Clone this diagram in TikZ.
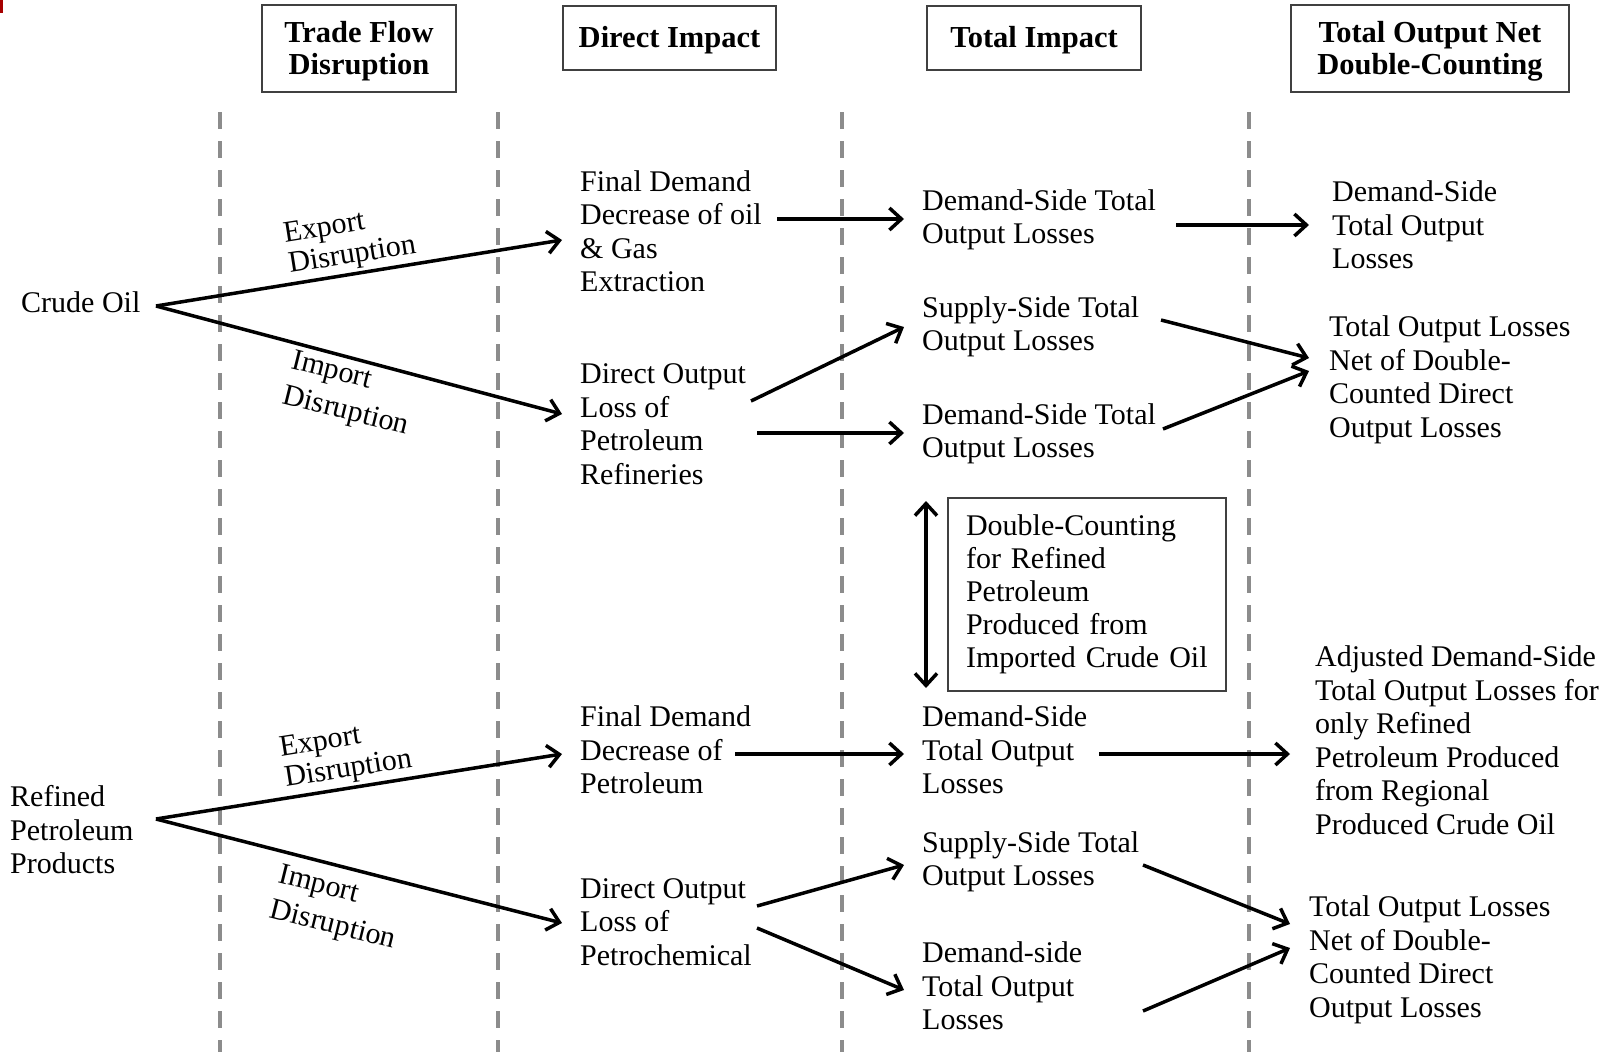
\documentclass[tikz,border=0pt]{standalone}
\usepackage{fontspec}
\setmainfont{Liberation Serif}
\usetikzlibrary{arrows.meta}
\begin{document}
\begin{tikzpicture}[x=1pt,y=-1pt,
  txt/.style={font=\fontsize{30}{33.5}\selectfont, align=left, anchor=west, inner sep=0pt},
  hdrbox/.style={draw=black!75, line width=1.8pt, inner sep=0pt},
  hdrtxt/.style={font=\fontsize{30.5}{32}\selectfont\bfseries, align=center, inner sep=0pt},
  lbl/.style={font=\fontsize{30}{31}\selectfont, align=left, inner sep=0pt},
  lbltwo/.style={font=\fontsize{30}{36}\selectfont, align=left, inner sep=0pt},
  arr/.style={line width=3.5pt, -{Straight Barb[length=12pt,width=22pt]}},
  dblarr/.style={line width=3.5pt, {Straight Barb[length=12pt,width=22pt]}-{Straight Barb[length=12pt,width=22pt]}},
  guide/.style={draw=black!45, line width=3.5pt, dash pattern=on 17pt off 12pt}
]
\useasboundingbox (0,0) rectangle (1614,1052);
\fill[red!65!black] (0,0) rectangle (3,13);

% guides
\foreach \gx in {220,498,842,1249} \draw[guide] (\gx,112) -- (\gx,1052);

% headers
\node[hdrbox, minimum width=194pt, minimum height=87pt] (h1) at (359,48.5) {};
\node[hdrbox, minimum width=213pt, minimum height=64pt] (h2) at (669.5,38) {};
\node[hdrbox, minimum width=214pt, minimum height=64pt] (h3) at (1034,38) {};
\node[hdrbox, minimum width=278pt, minimum height=87pt] (h4) at (1430,48.5) {};
\node[hdrtxt] (h1t) at ([yshift=-3pt]h1.center) {Trade Flow\\Disruption};
\node[hdrtxt] (h2t) at ([yshift=-2pt]h2.center) {Direct Impact};
\node[hdrtxt] (h3t) at ([yshift=-2pt]h3.center) {Total Impact};
\node[hdrtxt] (h4t) at ([yshift=-3pt]h4.center) {Total Output Net\\Double-Counting};

% left sources
\node[txt] (co) at (21,302) {Crude Oil};
\node[txt] (rpp) at (10,830) {Refined\\Petroleum\\Products};

% direct impact
\node[txt] (fd1) at (580,231) {Final Demand\\Decrease of oil\\\& Gas\\Extraction};
\node[txt] (do1) at (580,424) {Direct Output\\Loss of\\Petroleum\\Refineries};
\node[txt] (fd2) at (580,750) {Final Demand\\Decrease of\\Petroleum};
\node[txt] (do2) at (580,922) {Direct Output\\Loss of\\Petrochemical};

% total impact
\node[txt] (ti1) at (922,220) {Demand-Side Total\\Output Losses};
\node[txt] (ti2) at (922,327) {Supply-Side Total\\Output Losses};
\node[txt] (ti3) at (922,434) {Demand-Side Total\\Output Losses};
\node[txt] (ti4) at (922,750) {Demand-Side\\Total Output\\Losses};
\node[txt] (ti5) at (922,862) {Supply-Side Total\\Output Losses};
\node[txt] (ti6) at (922,986) {Demand-side\\Total Output\\Losses};

% net
\node[txt] (n1) at (1332,225) {Demand-Side\\Total Output\\Losses};
\node[txt] (n2) at (1329,380) {Total Output Losses\\Net of Double-\\Counted Direct\\Output Losses};
\node[txt] (n3) at (1315,740) {Adjusted Demand-Side\\Total Output Losses for\\only Refined\\Petroleum Produced\\from Regional\\Produced Crude Oil};
\node[txt] (n4) at (1309,960) {Total Output Losses\\Net of Double-\\Counted Direct\\Output Losses};

% double counting box
\node[draw=black!75, line width=1.5pt, font=\fontsize{30}{33}\selectfont, align=left,
      text width=242pt, inner xsep=18pt, inner ysep=0pt, minimum height=193pt] (dc) at (1087,594.5)
  {Double-Counting\\for Refined\\Petroleum\\Produced from\\Imported Crude Oil};

% edge labels
\node[lbl, rotate=9] (el1) at (350,241) {Export\\Disruption};
\node[lbltwo, rotate=-14] (il1) at (350,395) {Import\\Disruption};
\node[lbl, rotate=9] (el2) at (346,755) {Export\\Disruption};
\node[lbltwo, rotate=-14] (il2) at (337,909) {Import\\Disruption};

% connector endpoints
\coordinate (co-o) at (156,306);
\coordinate (fd1-i) at (562,240);
\coordinate (do1-i) at (562,414);
\coordinate (fd1-o) at (777,219);
\coordinate (ti1-i) at (904,219);
\coordinate (ti1-o) at (1176,225);
\coordinate (n1-i) at (1309,225);
\coordinate (do1-o1) at (751,401);
\coordinate (ti2-i) at (904,327);
\coordinate (do1-o2) at (757,433);
\coordinate (ti3-i) at (904,433);
\coordinate (ti2-o) at (1161,320);
\coordinate (n2-i1) at (1309,358);
\coordinate (ti3-o) at (1163,429);
\coordinate (n2-i2) at (1309,371);
\coordinate (dc-t) at (926,501);
\coordinate (dc-b) at (926,688);
\coordinate (rpp-o) at (156,819);
\coordinate (fd2-i) at (562,754);
\coordinate (do2-i) at (562,923);
\coordinate (fd2-o) at (735,754);
\coordinate (ti4-i) at (904,754);
\coordinate (ti4-o) at (1099,754);
\coordinate (n3-i) at (1290,754);
\coordinate (do2-o1) at (757,906);
\coordinate (ti5-i) at (904,865);
\coordinate (do2-o2) at (757,928);
\coordinate (ti6-i) at (904,990);
\coordinate (ti5-o) at (1143,865);
\coordinate (n4-i1) at (1290,924);
\coordinate (ti6-o) at (1143,1011);
\coordinate (n4-i2) at (1290,948);

% connectors
\draw[arr] (co-o) -- (fd1-i);
\draw[arr] (co-o) -- (do1-i);
\draw[arr] (fd1-o) -- (ti1-i);
\draw[arr] (ti1-o) -- (n1-i);
\draw[arr] (do1-o1) -- (ti2-i);
\draw[arr] (do1-o2) -- (ti3-i);
\draw[arr] (ti2-o) -- (n2-i1);
\draw[arr] (ti3-o) -- (n2-i2);
\draw[dblarr] (dc-t) -- (dc-b);
\draw[arr] (rpp-o) -- (fd2-i);
\draw[arr] (rpp-o) -- (do2-i);
\draw[arr] (fd2-o) -- (ti4-i);
\draw[arr] (ti4-o) -- (n3-i);
\draw[arr] (do2-o1) -- (ti5-i);
\draw[arr] (do2-o2) -- (ti6-i);
\draw[arr] (ti5-o) -- (n4-i1);
\draw[arr] (ti6-o) -- (n4-i2);
\end{tikzpicture}
\end{document}
